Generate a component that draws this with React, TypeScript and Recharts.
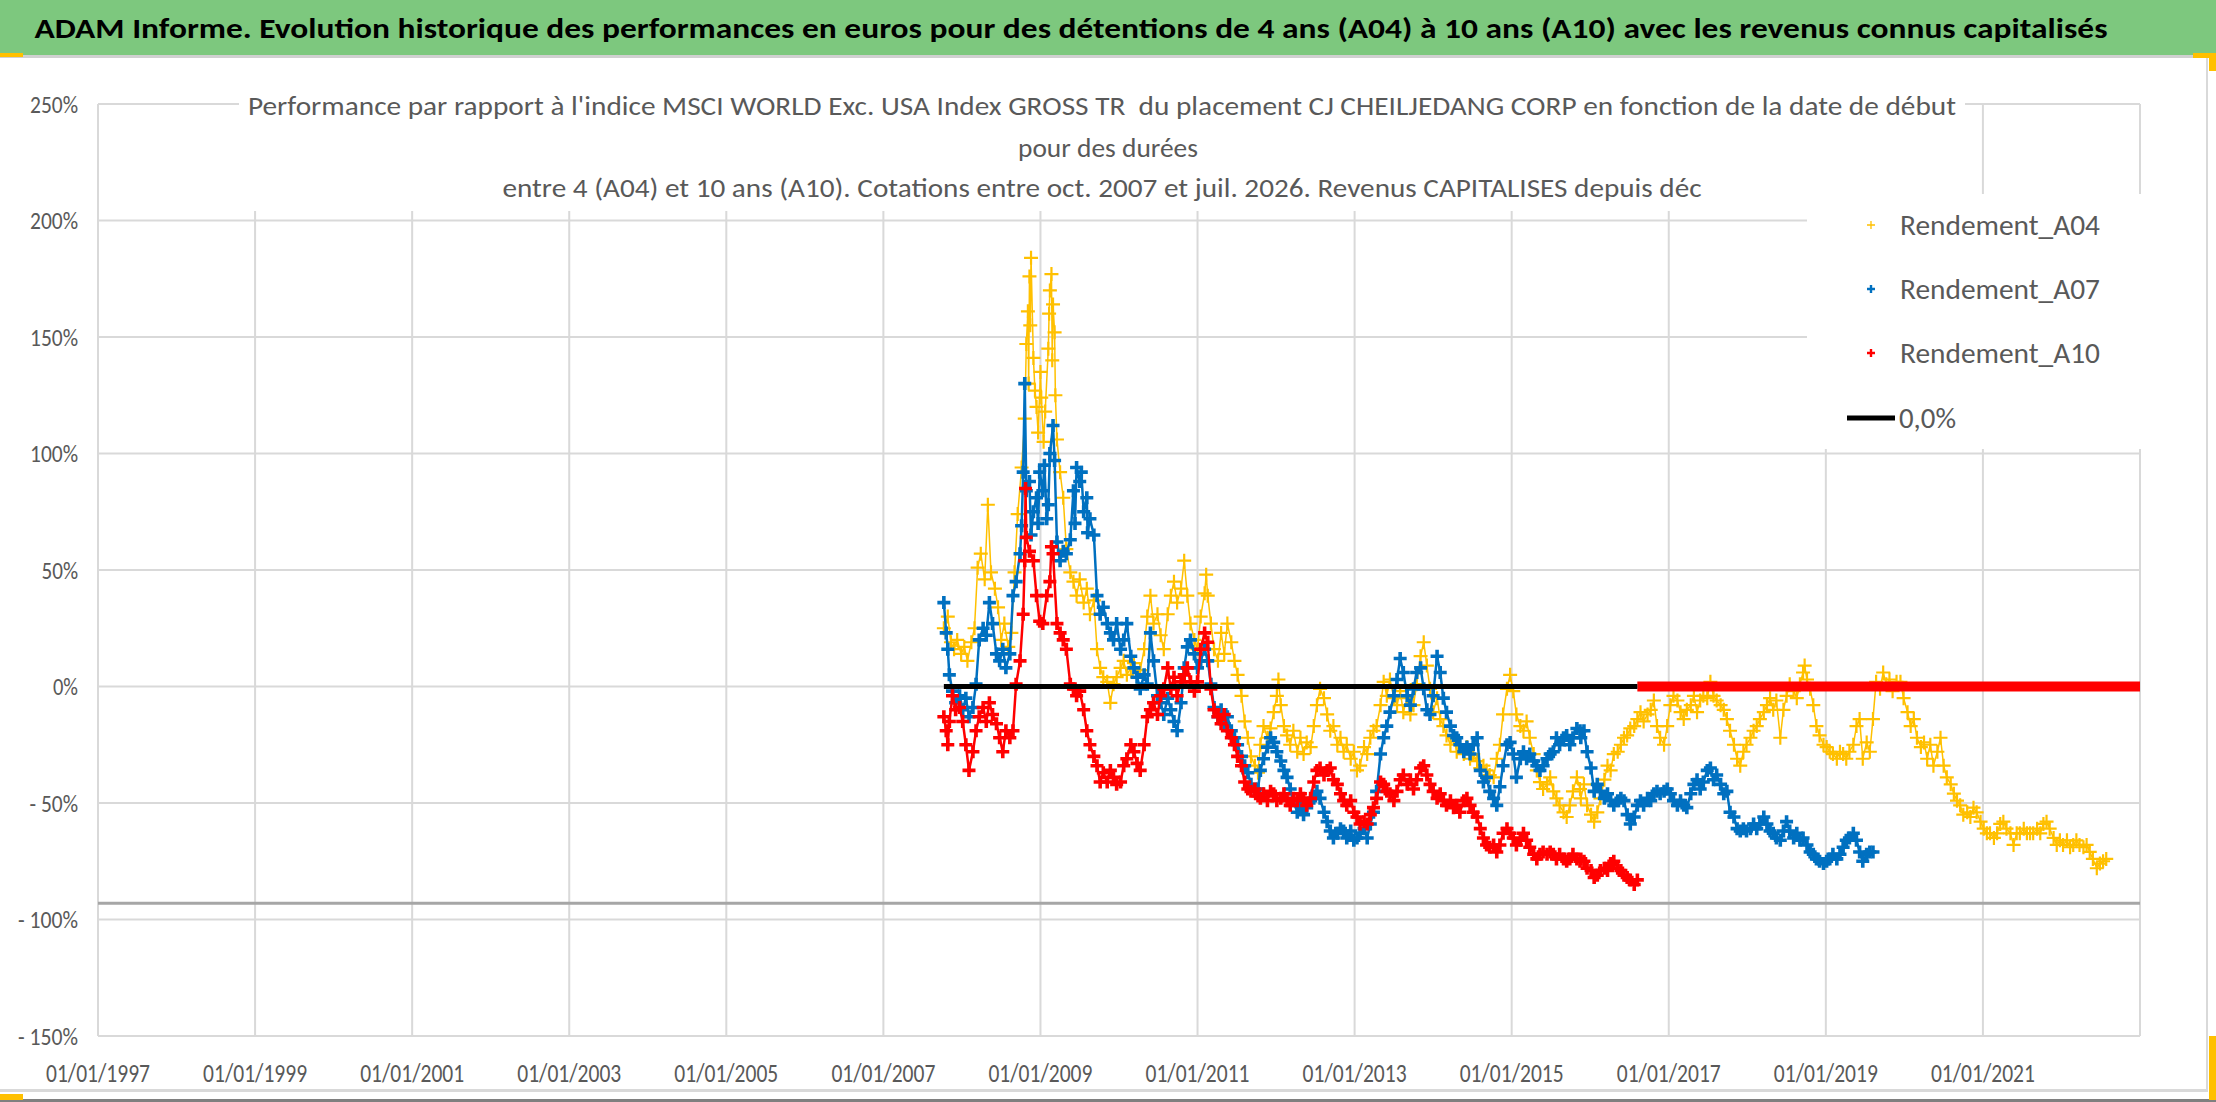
import * as React from 'react'
import {
  ScatterChart, Scatter, XAxis, YAxis, CartesianGrid, ReferenceLine,
} from 'recharts'

// readings: [year, performance %]
const rendementA04: [number, number][] = [
  [2007.77, 25], [2007.82, 30], [2007.86, 19], [2007.90, 16], [2007.94, 20], [2007.99, 14], [2008.03, 17],
  [2008.07, 11], [2008.12, 19], [2008.16, 25], [2008.20, 51], [2008.24, 57], [2008.29, 46], [2008.33, 78],
  [2008.37, 49], [2008.42, 42], [2008.46, 34], [2008.50, 20], [2008.54, 27], [2008.59, 17], [2008.63, 23],
  [2008.67, 49], [2008.71, 74], [2008.76, 94], [2008.80, 115], [2008.82, 147], [2008.84, 161], [2008.85, 130],
  [2008.86, 176], [2008.87, 155], [2008.88, 184], [2008.91, 141], [2008.93, 127], [2008.95, 120], [2008.97, 109],
  [2009.00, 135], [2009.01, 124], [2009.04, 105], [2009.06, 118], [2009.10, 145], [2009.11, 160], [2009.12, 170],
  [2009.14, 177], [2009.15, 140], [2009.16, 164], [2009.18, 152], [2009.19, 125], [2009.21, 106], [2009.25, 92],
  [2009.29, 81], [2009.33, 59], [2009.38, 49], [2009.42, 45], [2009.46, 39], [2009.50, 46], [2009.55, 36],
  [2009.59, 42], [2009.63, 31], [2009.68, 37], [2009.72, 16], [2009.76, 8], [2009.80, 4], [2009.85, 2],
  [2009.89, -7], [2009.93, 1], [2009.97, 4], [2010.02, 8], [2010.06, 11], [2010.10, 5], [2010.15, 8],
  [2010.19, 10], [2010.23, 4], [2010.27, 7], [2010.32, 16], [2010.36, 30], [2010.40, 39], [2010.44, 27],
  [2010.49, 31], [2010.53, 22], [2010.57, 16], [2010.62, 31], [2010.66, 39], [2010.70, 45], [2010.74, 36],
  [2010.79, 42], [2010.83, 54], [2010.87, 39], [2010.91, 27], [2010.96, 20], [2011.00, 16], [2011.04, 30],
  [2011.09, 40], [2011.11, 48], [2011.13, 39], [2011.17, 27], [2011.21, 16], [2011.26, 11], [2011.30, 23],
  [2011.34, 14], [2011.38, 27], [2011.43, 19], [2011.47, 11], [2011.51, 5], [2011.56, -4], [2011.60, -15],
  [2011.64, -22], [2011.68, -30], [2011.73, -34], [2011.77, -37],
  [2011.80, -25], [2011.84, -17], [2011.89, -22], [2011.93, -18], [2011.97, -11], [2012.01, -4], [2012.03, 3],
  [2012.06, -8], [2012.10, -17], [2012.14, -21], [2012.18, -25], [2012.22, -19], [2012.27, -28], [2012.31, -22],
  [2012.35, -29], [2012.39, -24], [2012.44, -26], [2012.48, -17], [2012.52, -8], [2012.56, -1], [2012.61, -5],
  [2012.65, -12], [2012.69, -19], [2012.73, -17], [2012.78, -25], [2012.82, -22], [2012.86, -28], [2012.90, -25],
  [2012.95, -31], [2012.99, -28], [2013.03, -36], [2013.07, -34], [2013.12, -26], [2013.16, -29], [2013.20, -22],
  [2013.24, -19], [2013.28, -17], [2013.33, -8], [2013.37, 2], [2013.41, -4], [2013.45, 3], [2013.50, -5],
  [2013.54, -8], [2013.58, -2], [2013.62, -11], [2013.67, -5], [2013.71, -12], [2013.75, -8], [2013.79, 1],
  [2013.84, 13], [2013.88, 19], [2013.92, 9], [2013.96, -1], [2014.00, -11], [2014.05, -5], [2014.09, -14],
  [2014.13, -17], [2014.17, -21], [2014.22, -25], [2014.26, -22], [2014.30, -28], [2014.34, -25], [2014.39, -29],
  [2014.43, -26], [2014.47, -31], [2014.51, -29], [2014.56, -32], [2014.60, -35], [2014.64, -34], [2014.68, -36],
  [2014.72, -38], [2014.77, -39], [2014.81, -31], [2014.85, -25], [2014.89, -12], [2014.94, -1], [2014.98, 5],
  [2015.02, -2], [2015.06, -12], [2015.11, -17], [2015.15, -19], [2015.19, -15], [2015.23, -22], [2015.28, -29],
  [2015.32, -36], [2015.36, -41], [2015.40, -44], [2015.45, -42], [2015.49, -39], [2015.53, -45], [2015.57, -48],
  [2015.61, -51], [2015.66, -54], [2015.70, -56], [2015.74, -51], [2015.78, -45], [2015.83, -39], [2015.87, -44],
  [2015.88, -48], [2015.92, -42], [2015.96, -51], [2016.01, -55], [2016.05, -58], [2016.09, -54], [2016.13, -48],
  [2016.18, -40], [2016.22, -34], [2016.26, -36], [2016.30, -29], [2016.35, -28], [2016.39, -25], [2016.43, -22],
  [2016.47, -21], [2016.51, -18], [2016.56, -17], [2016.60, -14], [2016.64, -11], [2016.68, -15], [2016.73, -12],
  [2016.77, -10], [2016.81, -6], [2016.85, -17], [2016.89, -22], [2016.94, -25], [2016.98, -17], [2017.02, -8],
  [2017.06, -4], [2017.11, -6], [2017.15, -11], [2017.19, -14], [2017.23, -10], [2017.28, -8], [2017.32, -4],
  [2017.36, -11], [2017.40, -6], [2017.44, -4], [2017.49, -5], [2017.53, 2], [2017.57, -4], [2017.61, -6],
  [2017.66, -8], [2017.70, -10], [2017.74, -14], [2017.78, -19], [2017.83, -25], [2017.87, -31], [2017.91, -34],
  [2017.95, -28], [2017.99, -25], [2018.04, -22], [2018.08, -19], [2018.12, -17], [2018.16, -14], [2018.21, -11],
  [2018.25, -8], [2018.29, -5], [2018.33, -10], [2018.37, -6], [2018.42, -22], [2018.46, -10], [2018.50, -4],
  [2018.54, 1], [2018.59, -2], [2018.63, -5], [2018.67, 1], [2018.71, 6], [2018.73, 9], [2018.76, 3],
  [2018.80, -1], [2018.84, -8], [2018.88, -17], [2018.92, -21], [2018.97, -25], [2019.01, -26], [2019.05, -28],
  [2019.09, -29], [2019.14, -31], [2019.18, -28], [2019.22, -29], [2019.26, -31], [2019.30, -28], [2019.35, -25],
  [2019.39, -17], [2019.43, -14], [2019.47, -31], [2019.52, -24], [2019.56, -28], [2019.60, -14], [2019.64, 2],
  [2019.69, -1], [2019.73, 6], [2019.77, 1], [2019.81, 3], [2019.85, -2], [2019.90, 2],
  [2019.95, 2], [2019.99, -5], [2020.04, -11], [2020.08, -17], [2020.12, -14], [2020.16, -22], [2020.21, -26],
  [2020.25, -24], [2020.29, -31], [2020.33, -25], [2020.37, -34], [2020.42, -28], [2020.46, -22], [2020.50, -34],
  [2020.54, -39], [2020.59, -42], [2020.63, -46], [2020.67, -49], [2020.71, -51], [2020.75, -55], [2020.80, -54],
  [2020.84, -56], [2020.88, -52], [2020.92, -54], [2020.97, -58], [2021.01, -61], [2021.05, -63], [2021.09, -63],
  [2021.14, -65], [2021.18, -63], [2021.22, -59], [2021.26, -58], [2021.30, -61], [2021.35, -63], [2021.39, -68],
  [2021.43, -63], [2021.47, -63], [2021.52, -61], [2021.56, -63], [2021.60, -63], [2021.64, -63], [2021.69, -61],
  [2021.73, -63], [2021.77, -59], [2021.81, -58], [2021.85, -61], [2021.90, -65], [2021.94, -68], [2021.98, -66],
  [2022.02, -68], [2022.07, -66], [2022.11, -69], [2022.15, -68], [2022.19, -66], [2022.23, -68], [2022.28, -69],
  [2022.32, -68], [2022.36, -71], [2022.40, -74], [2022.45, -78], [2022.49, -76], [2022.53, -75], [2022.57, -74],
]

const rendementA07: [number, number][] = [
  [2007.77, 36], [2007.80, 23], [2007.82, 16], [2007.84, 5], [2007.88, -2], [2007.92, -7], [2007.97, -4],
  [2008.01, -10], [2008.05, -5], [2008.09, -13], [2008.14, -9], [2008.18, 1], [2008.22, 20], [2008.27, 25],
  [2008.31, 22], [2008.35, 36], [2008.39, 27], [2008.44, 14], [2008.48, 11], [2008.52, 16], [2008.56, 8],
  [2008.61, 14], [2008.65, 39], [2008.69, 45], [2008.74, 57], [2008.76, 69], [2008.78, 92], [2008.80, 130],
  [2008.82, 84], [2008.86, 88], [2008.88, 65], [2008.91, 75], [2008.95, 81], [2008.97, 70], [2008.99, 92],
  [2009.03, 84], [2009.05, 95], [2009.08, 72], [2009.10, 78], [2009.12, 100], [2009.16, 112], [2009.18, 97],
  [2009.21, 62], [2009.25, 54], [2009.29, 58], [2009.33, 57], [2009.38, 63], [2009.42, 84], [2009.44, 70],
  [2009.46, 94], [2009.50, 88], [2009.52, 92], [2009.55, 75], [2009.59, 81], [2009.60, 66], [2009.63, 72],
  [2009.68, 65], [2009.72, 39], [2009.76, 31], [2009.80, 34], [2009.85, 27], [2009.89, 23], [2009.93, 20],
  [2009.97, 27], [2010.02, 16], [2010.06, 20], [2010.10, 27], [2010.15, 13], [2010.19, 8], [2010.23, 4],
  [2010.27, -1], [2010.32, 5], [2010.36, 1], [2010.40, 23], [2010.44, 11], [2010.49, -4], [2010.53, -7],
  [2010.57, -12], [2010.62, -5], [2010.66, -10], [2010.70, -15], [2010.74, -19], [2010.79, -7], [2010.83, 8],
  [2010.87, 17], [2010.91, 20], [2010.96, 14], [2011.00, 8], [2011.04, 11], [2011.09, 16], [2011.13, 11],
  [2011.17, 1], [2011.21, -9], [2011.26, -13], [2011.30, -10], [2011.34, -16], [2011.38, -13], [2011.43, -19],
  [2011.47, -22], [2011.51, -25], [2011.56, -30], [2011.60, -34], [2011.64, -37], [2011.68, -42], [2011.73, -45],
  [2011.77, -44],
  [2011.80, -36], [2011.84, -31], [2011.89, -26], [2011.93, -22], [2011.97, -24], [2012.01, -28], [2012.06, -32],
  [2012.10, -36], [2012.14, -39], [2012.18, -44], [2012.22, -49], [2012.27, -54], [2012.31, -51], [2012.35, -55],
  [2012.39, -52], [2012.44, -49], [2012.48, -48], [2012.52, -45], [2012.56, -48], [2012.61, -54], [2012.65, -58],
  [2012.69, -62], [2012.73, -65], [2012.78, -63], [2012.82, -61], [2012.86, -62], [2012.90, -65], [2012.95, -62],
  [2012.99, -66], [2013.03, -65], [2013.07, -63], [2013.12, -61], [2013.16, -65], [2013.20, -59], [2013.24, -54],
  [2013.28, -45], [2013.33, -29], [2013.37, -22], [2013.41, -17], [2013.45, -11], [2013.50, -4], [2013.54, 3],
  [2013.58, 12], [2013.62, 6], [2013.67, -4], [2013.71, -8], [2013.75, -1], [2013.79, 6], [2013.84, 8],
  [2013.88, -1], [2013.92, -10], [2013.96, -12], [2014.00, -4], [2014.05, 13], [2014.09, 6], [2014.13, -5],
  [2014.17, -11], [2014.22, -17], [2014.26, -21], [2014.30, -22], [2014.34, -25], [2014.39, -28], [2014.43, -26],
  [2014.47, -29], [2014.51, -25], [2014.56, -22], [2014.60, -36], [2014.64, -41], [2014.68, -39], [2014.72, -45],
  [2014.77, -48], [2014.81, -51], [2014.85, -43], [2014.89, -34], [2014.94, -25], [2014.98, -24], [2015.02, -29],
  [2015.06, -39], [2015.11, -31], [2015.15, -28], [2015.19, -31], [2015.23, -29], [2015.28, -32], [2015.32, -34],
  [2015.36, -36], [2015.40, -34], [2015.45, -31], [2015.49, -29], [2015.53, -28], [2015.57, -22], [2015.61, -25],
  [2015.66, -22], [2015.70, -21], [2015.74, -25], [2015.78, -22], [2015.83, -18], [2015.87, -19],
  [2015.88, -22], [2015.92, -19], [2015.96, -28], [2016.01, -35], [2016.05, -45], [2016.09, -42], [2016.13, -45],
  [2016.18, -48], [2016.22, -46], [2016.26, -49], [2016.30, -51], [2016.35, -49], [2016.39, -48], [2016.43, -49],
  [2016.47, -55], [2016.51, -59], [2016.56, -56], [2016.60, -51], [2016.64, -49], [2016.68, -51], [2016.73, -48],
  [2016.77, -49], [2016.81, -46], [2016.85, -45], [2016.89, -46], [2016.94, -45], [2016.98, -44], [2017.02, -46],
  [2017.06, -49], [2017.11, -51], [2017.15, -49], [2017.19, -51], [2017.23, -52], [2017.28, -46], [2017.32, -42],
  [2017.36, -40], [2017.40, -44], [2017.44, -41], [2017.49, -36], [2017.53, -35], [2017.57, -40], [2017.61, -38],
  [2017.66, -42], [2017.70, -46], [2017.74, -45], [2017.78, -54], [2017.83, -56], [2017.87, -61], [2017.91, -62],
  [2017.95, -61], [2017.99, -62], [2018.04, -61], [2018.08, -59], [2018.12, -61], [2018.16, -59], [2018.21, -56],
  [2018.25, -59], [2018.29, -62], [2018.33, -63], [2018.37, -65], [2018.42, -66], [2018.46, -62], [2018.50, -58],
  [2018.54, -62], [2018.59, -65], [2018.63, -63], [2018.67, -66], [2018.71, -65], [2018.76, -68], [2018.80, -71],
  [2018.84, -72], [2018.88, -74], [2018.92, -75], [2018.97, -76], [2019.01, -75], [2019.05, -74], [2019.09, -72],
  [2019.14, -74], [2019.18, -72], [2019.22, -69], [2019.26, -66], [2019.30, -65], [2019.35, -63], [2019.39, -66],
  [2019.43, -71], [2019.47, -75], [2019.52, -72], [2019.56, -71], [2019.60, -71],
]

const rendementA10: [number, number][] = [
  [2007.77, -13], [2007.80, -19], [2007.82, -25], [2007.84, -15], [2007.88, -4], [2007.92, -10], [2007.97, -9],
  [2008.01, -15], [2008.05, -25], [2008.09, -36], [2008.14, -28], [2008.18, -19], [2008.22, -13], [2008.27, -9],
  [2008.31, -15], [2008.35, -7], [2008.39, -12], [2008.44, -16], [2008.48, -22], [2008.52, -28], [2008.56, -19],
  [2008.61, -22], [2008.65, -19], [2008.69, 1], [2008.74, 11], [2008.78, 31], [2008.80, 54], [2008.81, 85],
  [2008.82, 64], [2008.86, 58], [2008.91, 54], [2008.95, 39], [2008.99, 28], [2009.03, 27], [2009.08, 39],
  [2009.12, 45], [2009.14, 60], [2009.16, 57], [2009.21, 27], [2009.25, 23], [2009.29, 20], [2009.33, 16],
  [2009.38, 1], [2009.42, -1], [2009.46, -4], [2009.50, -2], [2009.55, -10], [2009.59, -19], [2009.63, -25],
  [2009.68, -30], [2009.72, -34], [2009.76, -41], [2009.80, -37], [2009.85, -41], [2009.89, -36], [2009.93, -39],
  [2009.97, -42], [2010.02, -41], [2010.06, -34], [2010.10, -31], [2010.15, -25], [2010.19, -28], [2010.23, -33],
  [2010.27, -36], [2010.32, -25], [2010.36, -13], [2010.40, -10], [2010.44, -7], [2010.49, -12], [2010.53, -4],
  [2010.57, -1], [2010.62, 8], [2010.66, -1], [2010.70, 4], [2010.74, -4], [2010.79, 2], [2010.83, 5],
  [2010.87, 8], [2010.91, 2], [2010.96, -2], [2011.00, 2], [2011.04, 16], [2011.09, 23], [2011.13, 19],
  [2011.17, -1], [2011.21, -10], [2011.26, -13], [2011.30, -16], [2011.34, -12], [2011.38, -19], [2011.43, -22],
  [2011.47, -25], [2011.51, -30], [2011.56, -34], [2011.60, -41], [2011.64, -44], [2011.68, -45], [2011.73, -44],
  [2011.77, -47],
  [2011.80, -48], [2011.84, -46], [2011.89, -49], [2011.93, -45], [2011.97, -46], [2012.01, -49], [2012.06, -48],
  [2012.10, -46], [2012.14, -49], [2012.18, -51], [2012.22, -48], [2012.27, -49], [2012.31, -46], [2012.35, -48],
  [2012.39, -51], [2012.44, -48], [2012.48, -41], [2012.52, -36], [2012.56, -35], [2012.61, -38], [2012.65, -36],
  [2012.69, -35], [2012.73, -40], [2012.78, -42], [2012.82, -46], [2012.86, -49], [2012.90, -51], [2012.95, -49],
  [2012.99, -54], [2013.03, -56], [2013.07, -59], [2013.12, -58], [2013.16, -59], [2013.20, -55], [2013.24, -52],
  [2013.28, -48], [2013.33, -41], [2013.37, -42], [2013.41, -45], [2013.45, -46], [2013.50, -49], [2013.54, -45],
  [2013.58, -40], [2013.62, -38], [2013.67, -42], [2013.71, -40], [2013.75, -44], [2013.79, -40], [2013.84, -35],
  [2013.88, -34], [2013.92, -38], [2013.96, -42], [2014.00, -45], [2014.05, -48], [2014.09, -46], [2014.13, -49],
  [2014.17, -51], [2014.22, -49], [2014.26, -52], [2014.30, -51], [2014.34, -54], [2014.39, -49], [2014.43, -48],
  [2014.47, -51], [2014.51, -54], [2014.56, -56], [2014.60, -61], [2014.64, -65], [2014.68, -68], [2014.72, -69],
  [2014.77, -68], [2014.81, -71], [2014.85, -68], [2014.89, -63], [2014.94, -61], [2014.98, -63], [2015.02, -65],
  [2015.06, -68], [2015.11, -66], [2015.15, -63], [2015.19, -66], [2015.23, -69], [2015.28, -72], [2015.32, -74],
  [2015.36, -72], [2015.40, -71], [2015.45, -72], [2015.49, -71], [2015.53, -72], [2015.57, -74], [2015.61, -72],
  [2015.66, -74], [2015.70, -75], [2015.74, -74], [2015.78, -72], [2015.83, -74], [2015.87, -75],
  [2015.88, -74], [2015.92, -75], [2015.96, -78], [2016.01, -79], [2016.05, -82], [2016.09, -81], [2016.13, -79],
  [2016.18, -78], [2016.22, -79], [2016.26, -76], [2016.30, -75], [2016.35, -78], [2016.39, -79], [2016.43, -81],
  [2016.47, -82], [2016.51, -83], [2016.56, -85], [2016.60, -83],
]

// A10 stays at 0 once its history runs out
const rendementA10Zero: [number, number][] = [[2016.6, 0], [2023.0, 0]]
// black "0,0%" reference series
const zeroSeries: [number, number][] = [[2007.77, 0], [2016.6, 0]]
// grey horizontal line just above -100%
const floorLevel = -93

const xTickYears = [1997, 1999, 2001, 2003, 2005, 2007, 2009, 2011, 2013, 2015, 2017, 2019, 2021]
const yTickValues = [-150, -100, -50, 0, 50, 100, 150, 200, 250]

const headerText = 'ADAM Informe. Evolution historique des performances en euros pour des détentions de 4 ans (A04) à 10 ans (A10) avec les revenus connus capitalisés'
const titleLines = [
  "Performance par rapport à l'indice MSCI WORLD Exc. USA Index GROSS TR  du placement CJ CHEILJEDANG CORP en fonction de la date de début",
  'pour des durées',
  'entre 4 (A04) et 10 ans (A10). Cotations entre oct. 2007 et juil. 2026. Revenus CAPITALISES depuis déc',
]
const legendItems = [
  { name: 'Rendement_A04', color: '#FFC000' },
  { name: 'Rendement_A07', color: '#0070C0' },
  { name: 'Rendement_A10', color: '#FF0000' },
]

const FONT = "Carlito, 'Liberation Sans Narrow', 'Liberation Sans', Arial, sans-serif"
const GREY = '#595959'

const toPoints = (rows: [number, number][]) => rows.map(([x, y]) => ({ x, y }))

const pctLabel = (v: number) => (v < 0 ? `- ${-v}%` : `${v}%`)
const pctWidth = (s: string) => s.split('').reduce((w, c) => {
  if (c === '%') return w + 13.5
  if (c === '-') return w + 7
  if (c === ' ') return w + 5
  return w + 11.5
}, 0)

const cross = (color: string, half: number, width: number) => (props: any) => {
  const { cx, cy } = props
  if (cx == null || cy == null) return <g />
  return (
    <path
      d={`M${cx - half} ${cy}H${cx + half}M${cx} ${cy - half}V${cy + half}`}
      stroke={color}
      strokeWidth={width}
      fill="none"
    />
  )
}

const noMarker = () => <g />

const YTick = (props: any) => {
  const { x, y, payload } = props
  const label = pctLabel(payload.value)
  return (
    <text
      x={x} y={y} dy="0.36em" textAnchor="end" fontSize={24} fontFamily={FONT} fill={GREY}
      textLength={pctWidth(label)} lengthAdjust="spacingAndGlyphs"
    >
      {label}
    </text>
  )
}

const XTick = (props: any) => {
  const { x, y, payload } = props
  return (
    <text
      x={x} y={y + 37} dy="0.36em" textAnchor="middle" fontSize={26} fontFamily={FONT} fill={GREY}
      textLength={104} lengthAdjust="spacingAndGlyphs"
    >
      {`01/01/${payload.value}`}
    </text>
  )
}

const handle = (left: number, top: number, width: number, height: number) => (
  <div style={{
    position: 'absolute', left, top, width, height, background: '#FFC000',
  }}
  />
)

export default function App() {
  return (
    <div style={{
      position: 'relative', width: 2216, height: 1102, background: '#fff', overflow: 'hidden',
    }}
    >
      <style>{'body { margin: 0; }'}</style>

      {/* chart frame */}
      <div style={{
        position: 'absolute', left: 0, top: 57, width: 2208, height: 1035,
        borderRight: '2px solid #D9D9D9', borderBottom: '3px solid #D9D9D9', boxSizing: 'border-box',
      }}
      />
      <div style={{
        position: 'absolute', left: 0, top: 1099, width: 2216, height: 3, background: '#7F7F7F',
      }}
      />

      <div style={{ position: 'absolute', left: 0, top: 0 }}>
        <ScatterChart
          width={2216}
          height={1102}
          margin={{
            top: 104, right: 76, left: 8, bottom: 16,
          }}
        >
          <CartesianGrid stroke="#D9D9D9" strokeWidth={2} />
          <XAxis
            type="number"
            dataKey="x"
            domain={[1997, 2023]}
            ticks={xTickYears}
            tick={<XTick />}
            tickLine={false}
            axisLine={false}
            tickSize={0}
            tickMargin={0}
            height={50}
            allowDataOverflow
          />
          <YAxis
            type="number"
            dataKey="y"
            domain={[-150, 250]}
            ticks={yTickValues}
            tick={<YTick />}
            tickLine={false}
            axisLine={false}
            tickSize={0}
            tickMargin={20}
            width={90}
            allowDataOverflow
          />
          <ReferenceLine y={floorLevel} stroke="#A6A6A6" strokeWidth={3} />
          <Scatter
            name="Rendement_A04"
            data={toPoints(rendementA04)}
            shape={cross('#FFC000', 7, 2.2)}
            line={{ stroke: '#FFC000', strokeWidth: 1.5 }}
            isAnimationActive={false}
          />
          <Scatter
            name="Rendement_A07"
            data={toPoints(rendementA07)}
            shape={cross('#0070C0', 6.5, 3.6)}
            line={{ stroke: '#0070C0', strokeWidth: 2.5 }}
            isAnimationActive={false}
          />
          <Scatter
            name="Rendement_A10"
            data={toPoints(rendementA10)}
            shape={cross('#FF0000', 6.5, 3.6)}
            line={{ stroke: '#FF0000', strokeWidth: 2.5 }}
            isAnimationActive={false}
          />
          <Scatter
            name="Rendement_A10 (0)"
            data={toPoints(rendementA10Zero)}
            shape={noMarker}
            line={{ stroke: '#FF0000', strokeWidth: 10 }}
            isAnimationActive={false}
          />
          <Scatter
            name="0,0%"
            data={toPoints(zeroSeries)}
            shape={noMarker}
            line={{ stroke: '#000000', strokeWidth: 5 }}
            isAnimationActive={false}
          />
        </ScatterChart>
      </div>

      {/* header, title and legend */}
      <svg
        width={2216}
        height={1102}
        style={{
          position: 'absolute', left: 0, top: 0, pointerEvents: 'none',
        }}
      >
        <rect x={0} y={0} width={2216} height={55} fill="#7DC87E" />
        <rect x={0} y={55} width={2216} height={3} fill="#D0D0D0" />
        <text
          x={1071} y={38} textAnchor="middle" fontSize={29} fontWeight="bold" fontFamily={FONT} fill="#000"
          textLength={2073} lengthAdjust="spacingAndGlyphs"
        >
          {headerText}
        </text>

        <rect x={239} y={84} width={1726} height={127} fill="#fff" />
        <text
          x={1102} y={115} textAnchor="middle" fontSize={27} fontFamily={FONT} fill={GREY}
          textLength={1708} lengthAdjust="spacingAndGlyphs" xmlSpace="preserve"
        >
          {titleLines[0]}
        </text>
        <text
          x={1108} y={157} textAnchor="middle" fontSize={27} fontFamily={FONT} fill={GREY}
          textLength={180} lengthAdjust="spacingAndGlyphs"
        >
          {titleLines[1]}
        </text>
        <text
          x={1102} y={197} textAnchor="middle" fontSize={27} fontFamily={FONT} fill={GREY}
          textLength={1199} lengthAdjust="spacingAndGlyphs"
        >
          {titleLines[2]}
        </text>

        <rect x={1807} y={194} width={336} height={255} fill="#fff" />
        {legendItems.map((item, i) => {
          const cy = 225 + i * 64
          const thin = i === 0
          return (
            <g key={item.name}>
              <path
                d={`M${1867} ${cy}H${1875}M${1871} ${cy - 4}V${cy + 4}`}
                stroke={item.color}
                strokeWidth={thin ? 1.3 : 2.4}
              />
              <text
                x={1900} y={cy + 10} fontSize={28} fontFamily={FONT} fill={GREY}
                textLength={200} lengthAdjust="spacingAndGlyphs"
              >
                {item.name}
              </text>
            </g>
          )
        })}
        <line x1={1847} y1={418} x2={1895} y2={418} stroke="#000" strokeWidth={5} />
        <text
          x={1899} y={428} fontSize={28} fontFamily={FONT} fill={GREY}
          textLength={57} lengthAdjust="spacingAndGlyphs"
        >
          0,0%
        </text>
      </svg>

      {handle(0, 53, 23, 4)}
      {handle(2193, 53, 23, 5)}
      {handle(2209, 53, 7, 18)}
      {handle(2209, 1036, 7, 64)}
      {handle(0, 1094, 23, 6)}
    </div>
  )
}
